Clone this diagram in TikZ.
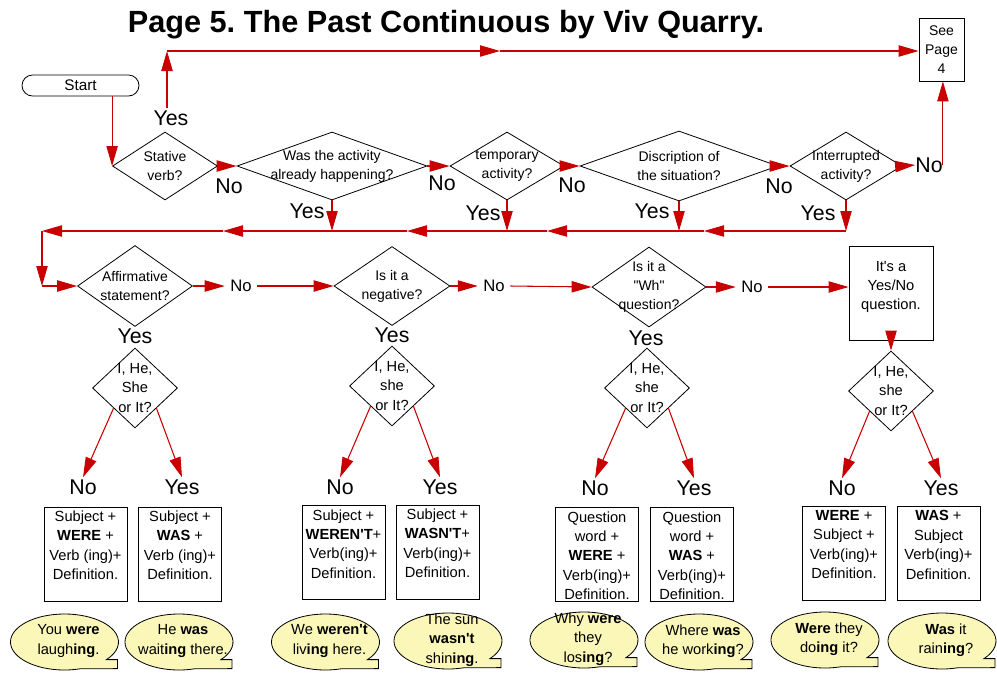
\documentclass[tikz,border=0pt]{standalone}
\usepackage{fontspec}
\setmainfont{Liberation Sans}[Ligatures=TeXOff]
\usetikzlibrary{arrows.meta,shapes.geometric,shapes.misc}
\frenchspacing
\definecolor{arrred}{RGB}{200,0,0}
\definecolor{bubfill}{RGB}{250,247,185}
\newcommand\fsSmall{\fontsize{10.5}{14.4}\selectfont}
\newcommand\fsBox{\fontsize{11}{14.6}\selectfont}
\newcommand\fsBig{\fontsize{16}{18}\selectfont}
\newcommand\fsMid{\fontsize{12.5}{14}\selectfont}
\newcommand\fsTitle{\fontsize{23}{27}\selectfont}
\newcommand\bubble[4]{%
  \filldraw[bub] (#2,#3) ++(73:54 and 28) arc[start angle=73, end angle=399, x radius=54, y radius=28] -- ++(11,0) -- ++(0,9) -- cycle;
  \node[btxt] (#1) at (#2+4,#3-1) {#4};}
\begin{document}
\begin{tikzpicture}[x=0.75pt,y=-0.75pt,
  arr/.style={draw=arrred, line width=0.8pt, -{Triangle[length=15pt,width=8.5pt]}},
  dia/.style 2 args={diamond, draw, line width=0.6pt, inner sep=0pt, minimum width=#1*0.75pt, minimum height=#2*0.75pt},
  dtext/.style={font=\fsSmall, align=center, inner sep=0pt},
  big/.style={font=\fsBig, inner sep=1.5pt},
  mid/.style={font=\fsMid, inner xsep=4pt, inner ysep=1pt},
  defbox/.style={draw, line width=0.6pt, minimum width=62.25pt, minimum height=70.5pt, inner sep=0pt},
  btext/.style={font=\fsBox, align=center, anchor=north, inner sep=3pt},
  bub/.style={fill=bubfill, draw=black, line width=0.6pt},
  btxt/.style={font=\fsBox, align=center, inner sep=0pt}]
\fill[white] (0,0) rectangle (997,672);
\useasboundingbox (0,0) rectangle (997,672);

% title
\node[font=\fsTitle\bfseries, anchor=base, inner sep=0pt] (title) at (446,32.5) {Page 5. The Past Continuous by Viv Quarry.};

% start and see page 4
\node[rounded rectangle, draw, line width=0.6pt, minimum width=87.75pt, minimum height=15.75pt, inner sep=0pt, font=\fontsize{11.5}{13}\selectfont] (start) at (80.5,85.5) {Start};
\node[draw, line width=0.6pt, minimum width=33.75pt, minimum height=47.25pt, inner sep=0pt, font=\fsSmall, align=center] (see) at (941.5,49.5) {See\\Page\\4};

% row 1
\node[dia={105}{68}, label={[dtext]center:{Stative\\verb?}}] (stat) at (165,166) {};
\node[dia={190}{68}, label={[dtext]center:{Was the activity\\already happening?}}] (was) at (332,166) {};
\node[dia={114}{68}, label={[dtext]center:{temporary\\activity?}}] (tmp) at (507,166) {};
\node[dia={198}{70}, label={[dtext]center:{Discription of\\the situation?}}] (disc) at (679,166) {};
\node[dia={112}{68}, label={[dtext]center:{Interrupted\\activity?}}] (intr) at (846,166) {};

\node[big] (ys) at (171,118) {Yes};
\node[big] (yw) at (307,211) {Yes};
\node[big] (yt) at (483,213) {Yes};
\node[big] (yd) at (652,211) {Yes};
\node[big] (yi) at (818,213) {Yes};
\node[big] (ns) at (229,186) {No};
\node[big] (nw) at (442,183) {No};
\node[big] (nt) at (572,185) {No};
\node[big] (nd) at (779,186) {No};
\node[big, inner sep=0pt] (ni) at (929,165) {No};

\coordinate (t0) at (167,51);
\coordinate (t1) at (500,51);
\draw[arr] (t0 |- ys.north) -- (t0);
\draw[arr] (t0) -- (t1);
\draw[arr] (t1) -- (see.west |- t1);
\draw[arr] (start.south -| stat.west) -- (stat.west);
\draw[arr] (stat.east) -- (was.west);
\draw[arr] (was.east) -- (tmp.west);
\draw[arr] (tmp.east) -- (disc.west);
\draw[arr] (disc.east) -- (intr.west);
\draw[arr] (intr.east) -- (ni.west);
\draw[arr] (ni.east) -- (ni.east |- see.south);

% collecting line
\coordinate (h1) at (846,231);
\coordinate (h2) at (704,231);
\coordinate (h3) at (547,231);
\coordinate (h4) at (407,231);
\coordinate (h5) at (223,231);
\coordinate (h6) at (42,231);
\coordinate (h7) at (42,286);
\draw[arr] (intr.south) -- (h1);
\draw[arr] (disc.south) -- (disc.south |- h1);
\draw[arr] (tmp.south) -- (tmp.south |- h1);
\draw[arr] (was.south) -- (was.south |- h1);
\draw[arr] (h1) -- (h2);
\draw[arr] (h2) -- (h3);
\draw[arr] (h3) -- (h4);
\draw[arr] (h4) -- (h5);
\draw[arr] (h5) -- (h6);
\draw[arr] (h6) -- (h7);

% row 2
\node[dia={115}{81}, label={[dtext]center:{Affirmative\\statement?}}] (aff) at (135,286) {};
\node[dia={116}{79}, label={[dtext]center:{Is it a\\negative?}}] (neg) at (392,286) {};
\node[dia={114}{80}, label={[dtext]center:{Is it a\\"Wh"\\question?}}] (wh) at (649,287) {};
\node[draw, line width=0.6pt, minimum width=63pt, minimum height=70.5pt, inner sep=0pt,
      label={[dtext,font=\fsBox,yshift=4.5pt]center:{It's a\\Yes/No\\question.}}] (yn) at (891,293) {};
\draw[arr] (h7) -- (aff.west);

\node[mid] (na) at (241,286) {No};
\node[mid] (nn) at (494,286) {No};
\node[mid] (nq) at (752,287) {No};
\draw[arr] (aff.east) -- (na.west);
\draw[arr] (na.east) -- (neg.west);
\draw[arr] (neg.east) -- (nn.west);
\draw[arr] (nn.east) -- (wh.west);
\draw[arr] (wh.east) -- (nq.west);
\draw[arr] (nq.east) -- (nq.east -| yn.west);

\node[big] (ya) at (135,336) {Yes};
\node[big] (yb) at (392,335) {Yes};
\node[big] (yc) at (646,338) {Yes};

% row 3
\node[dia={85}{80}, label={[dtext,font=\fsBox]center:{I, He,\\She\\or It?}}] (p1) at (135,388) {};
\node[dia={85}{80}, label={[dtext,font=\fsBox]center:{I, He,\\she\\or It?}}] (p2) at (392,386) {};
\node[dia={85}{80}, label={[dtext,font=\fsBox]center:{I, He,\\she\\or It?}}] (p3) at (647,388) {};
\node[dia={85}{80}, label={[dtext,font=\fsBox]center:{I, He,\\she\\or It?}}] (p4) at (891,391) {};
\draw[arr] (yn.south) -- (p4.north);

\node[big] (n1) at (83,487) {No};
\node[big] (y1) at (182,487) {Yes};
\node[big] (n2) at (340,487) {No};
\node[big] (y2) at (440,487) {Yes};
\node[big] (n3) at (595,488) {No};
\node[big] (y3) at (694,488) {Yes};
\node[big] (n4) at (842,488) {No};
\node[big] (y4) at (941,488) {Yes};
\draw[arr] (p1.south west) -- (n1.north);
\draw[arr] (p1.south east) -- (y1.north);
\draw[arr] (p2.south west) -- (n2.north);
\draw[arr] (p2.south east) -- (y2.north);
\draw[arr] (p3.south west) -- (n3.north);
\draw[arr] (p3.south east) -- (y3.north);
\draw[arr] (p4.south west) -- (n4.north);
\draw[arr] (p4.south east) -- (y4.north);

% answer boxes
\node[defbox, label={[btext]north:{Subject +\\\textbf{WERE} +\\Verb (ing)+\\Definition.}}] (b1) at (85.5,554) {};
\node[defbox, label={[btext]north:{Subject +\\\textbf{WAS} +\\Verb (ing)+\\Definition.}}] (b2) at (180,554) {};
\node[defbox, label={[btext]north:{Subject +\\\textbf{WEREN'T}+\\Verb(ing)+\\Definition.}}] (b3) at (343.5,552.5) {};
\node[defbox, label={[btext]north:{Subject +\\\textbf{WASN'T}+\\Verb(ing)+\\Definition.}}] (b4) at (437.5,552) {};
\node[defbox, label={[btext]north:{Question\\word +\\\textbf{WERE} +\\Verb(ing)+\\Definition.}}] (b5) at (597,554.5) {};
\node[defbox, label={[btext]north:{Question\\word +\\\textbf{WAS} +\\Verb(ing)+\\Definition.}}] (b6) at (692,554.5) {};
\node[defbox, label={[btext]north:{\textbf{WERE} +\\Subject +\\Verb(ing)+\\Definition.}}] (b7) at (844,553.5) {};
\node[defbox, label={[btext]north:{\textbf{WAS} +\\Subject\\Verb(ing)+\\Definition.}}] (b8) at (938.5,553.5) {};

% speech bubbles
\bubble{s1}{64.5}{642}{You \textbf{were}\\laugh\textbf{ing}.}
\bubble{s2}{179}{642}{He \textbf{was}\\wait\textbf{ing} there.}
\bubble{s3}{325.5}{642}{We \textbf{weren't}\\liv\textbf{ing} here.}
\bubble{s4}{448}{641}{The sun\\\textbf{wasn't}\\shin\textbf{ing}.}
\bubble{s5}{584}{640}{Why \textbf{were}\\they\\los\textbf{ing}?}
\bubble{s6}{699}{642}{Where \textbf{was}\\he work\textbf{ing}?}
\bubble{s7}{825}{640}{\textbf{Were} they\\do\textbf{ing} it?}
\bubble{s8}{942}{641}{\textbf{Was} it\\rain\textbf{ing}?}
\end{tikzpicture}
\end{document}
